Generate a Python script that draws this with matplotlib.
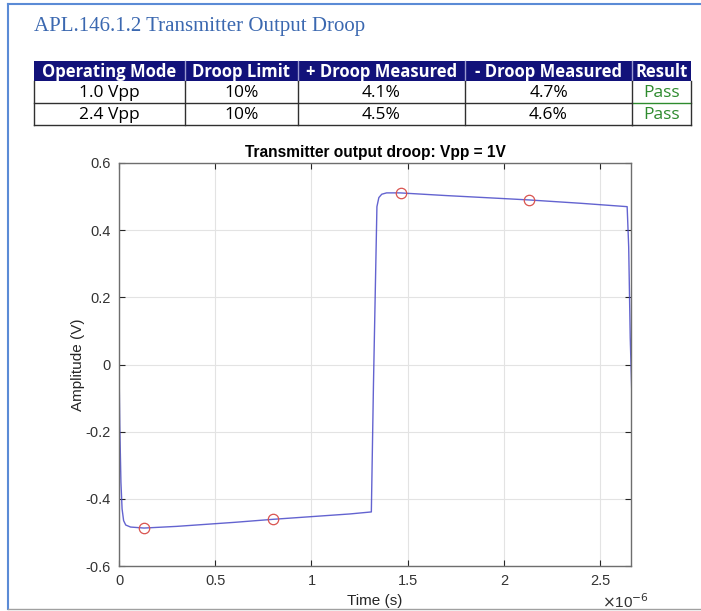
import matplotlib
matplotlib.use('Agg')
import matplotlib.pyplot as plt
from matplotlib.patches import Rectangle
import numpy as np

# report header + table
report_title = 'APL.146.1.2 Transmitter Output Droop'
table_header = ['Operating Mode', 'Droop Limit', '+ Droop Measured', '- Droop Measured', 'Result']
table_rows = [['1.0 Vpp', '10%', '4.1%', '4.7%', 'Pass'],
              ['2.4 Vpp', '10%', '4.5%', '4.6%', 'Pass']]

# waveform (time in us, amplitude in V)
t_us = [0, 0.004, 0.01, 0.016, 0.024, 0.035, 0.06, 0.13, 0.3, 0.6, 0.8, 1.0, 1.2, 1.311,
        1.322, 1.34, 1.35, 1.365, 1.39, 1.46, 1.7, 2.0, 2.13, 2.4, 2.64, 2.648, 2.656, 2.665]
amp = [0.0, -0.18, -0.35, -0.43, -0.465, -0.478, -0.484, -0.487, -0.482, -0.470, -0.461,
       -0.453, -0.445, -0.439, -0.06, 0.47, 0.497, 0.507, 0.511, 0.511, 0.503, 0.494, 0.490,
       0.480, 0.470, 0.35, 0.08, -0.1]

# droop measurement points
mark_t = [0.13, 0.80, 1.465, 2.13]
mark_v = [-0.487, -0.461, 0.511, 0.490]

W, H = 701, 611
fig = plt.figure(figsize=(W / 100, H / 100), dpi=100)

# overlay in pixel coordinates for the report part
bg = fig.add_axes([0, 0, 1, 1])
bg.set_xlim(0, W)
bg.set_ylim(H, 0)
bg.axis('off')

bg.plot([8, 8], [4, 609], color='#5b8bd6', lw=1.5)
bg.plot([8, W + 5], [4, 4], color='#5b8bd6', lw=1.5)
bg.plot([8, W + 5], [609, 609], color='#a0a0a0', lw=1)

bg.text(34, 26, report_title, fontsize=15, family='Liberation Serif',
        color='#3b68b0', va='center', ha='left')

col_x = [34, 185, 298, 465, 632, 691]
row_y = [61, 81, 103, 125]
navy = '#12127a'
bg.add_patch(Rectangle((col_x[0], row_y[0]), col_x[-1] - col_x[0], row_y[1] - row_y[0],
                       facecolor=navy, edgecolor='none'))
for i, h in enumerate(table_header):
    bg.text((col_x[i] + col_x[i + 1]) / 2, (row_y[0] + row_y[1]) / 2 + 1, h,
            fontsize=12, family='Open Sans', weight='bold', color='white',
            ha='center', va='center')
    if i > 0:
        bg.plot([col_x[i], col_x[i]], [row_y[0], row_y[1]], color='#9a9ad0', lw=1)
for r, row in enumerate(table_rows):
    y0, y1 = row_y[r + 1], row_y[r + 2]
    for i, val in enumerate(row):
        col = '#2e8b2e' if val == 'Pass' else 'black'
        bg.text((col_x[i] + col_x[i + 1]) / 2, (y0 + y1) / 2 + 1, val,
                fontsize=12.5, family='Open Sans', color=col,
                ha='center', va='center')
    bg.plot([col_x[0], col_x[-2]], [y1, y1], color='#303030', lw=1)
    bg.plot([col_x[-2], col_x[-1]], [y1, y1], color='#2e8b2e' if r == 0 else '#303030', lw=1)
for x in col_x:
    bg.plot([x, x], [row_y[1], row_y[-1]], color='#303030', lw=1)

# the plot itself
ax = fig.add_axes([119 / W, 1 - 566 / H, (631 - 119) / W, (566 - 163) / H])
ax.plot(t_us, amp, color='#4848c8', lw=1.0, alpha=0.85)
ax.plot(mark_t, mark_v, 'o', mfc='none', mec='#d9534f', ms=7.5, mew=0.9)
ax.set_xlim(0, 2.66)
ax.set_ylim(-0.6, 0.6)
ax.set_xticks([0, 0.5, 1, 1.5, 2, 2.5])
ax.set_xticklabels(['0', '0.5', '1', '1.5', '2', '2.5'])
ax.set_yticks([-0.6, -0.4, -0.2, 0, 0.2, 0.4, 0.6])
ax.set_yticklabels(['-0.6', '-0.4', '-0.2', '0', '0.2', '0.4', '0.6'])
ax.grid(True, color='#e3e3e3', lw=0.8)
ax.set_axisbelow(True)
ax.tick_params(direction='in', top=True, right=True, length=4, width=0.8,
               colors='#262626', labelsize=10.5, pad=6)
ax.tick_params(axis='both', labelcolor='#333333')
for s in ax.spines.values():
    s.set_color('#6e6e6e')
    s.set_linewidth(1.0)
for lab in ax.get_xticklabels() + ax.get_yticklabels():
    lab.set_family('Liberation Sans')
ax.set_title('Transmitter output droop: Vpp = 1V', fontsize=11.2, weight='bold',
             family='Liberation Sans', color='black', pad=4)
ax.set_xlabel('Time (s)', fontsize=11, family='Liberation Sans', color='#262626', labelpad=4)
ax.set_ylabel('Amplitude (V)', fontsize=11, family='Liberation Sans', color='#262626', labelpad=0)
bg.text(625, 602, r'$\times$10$^{-6}$', fontsize=11, family='Liberation Sans',
        color='#333333', ha='center', va='center')

fig.savefig('out.png', dpi=100)
